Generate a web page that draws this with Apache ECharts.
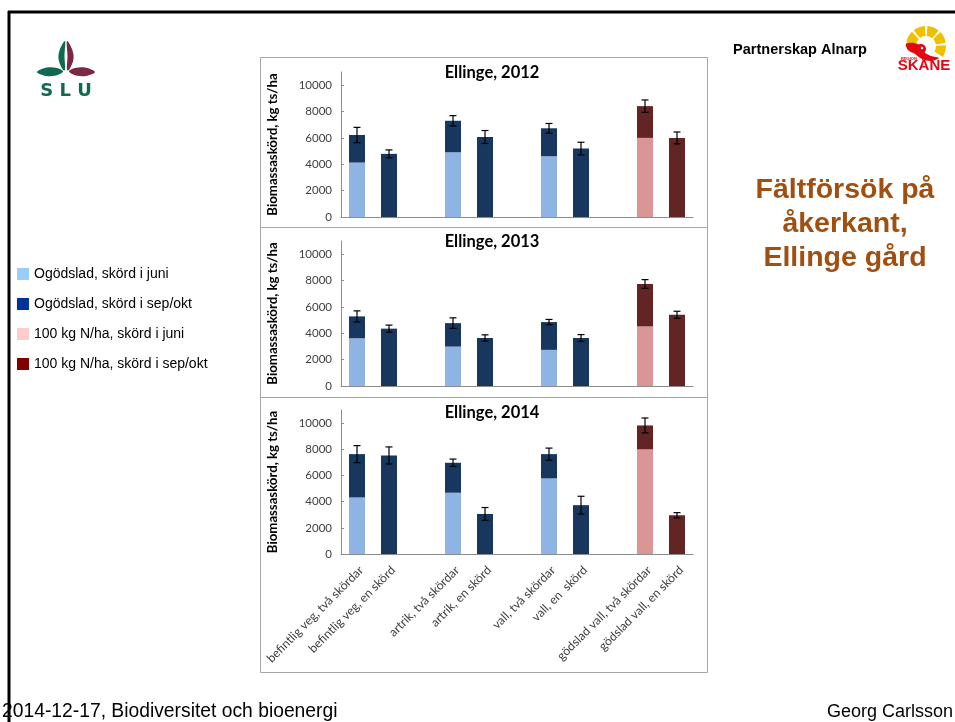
<!DOCTYPE html>
<html>
<head>
<meta charset="utf-8">
<script src="https://cdn.jsdelivr.net/npm/echarts@6/dist/echarts.min.js"></script>
<style>
html,body{margin:0;padding:0;background:#fff;}
#chart{width:955px;height:722px;}
</style>
</head>
<body>
<div id="chart"></div>
<script>
// ---------- data ----------
const categories = [
  'befintlig veg, två skördar', 'befintlig veg, en skörd', '',
  'artrik, två skördar', 'artrik, en skörd', '',
  'vall, två skördar', 'vall, en  skörd', '',
  'gödslad vall, två skördar', 'gödslad vall, en skörd'
];
// 1 = 100 kg N/ha (gödslad), 0 = ogödslad
const fertilized = [0, 0, 0, 0, 0, 0, 0, 0, 0, 1, 1];

const panelTitles = ['Ellinge, 2012', 'Ellinge, 2013', 'Ellinge, 2014'];

const total2012 = [6220, 4790, null, 7300, 6070, null, 6730, 5190, null, 8410, 6000];
const juni2012  = [4130, null, null, 4910, null, null, 4610, null, null, 6000, null];
const err2012   = [580, 300, null, 390, 490, null, 365, 480, null, 470, 450];

const total2013 = [5280, 4350, null, 4770, 3640, null, 4850, 3640, null, 7740, 5400];
const juni2013  = [3620, null, null, 2990, null, null, 2740, null, null, 4520, null];
const err2013   = [420, 270, null, 400, 240, null, 200, 260, null, 330, 270];

const total2014 = [7630, 7530, null, 6970, 3060, null, 7630, 3730, null, 9820, 2960];
const juni2014  = [4320, null, null, 4680, null, null, 5780, null, null, 7990, null];
const err2014   = [650, 650, null, 280, 490, null, 460, 680, null, 570, 200];

const yTicks = [0, 2000, 4000, 6000, 8000, 10000];

const legendNames = [
  'Ogödslad, skörd i juni',
  'Ogödslad, skörd i sep/okt',
  '100 kg N/ha, skörd i juni',
  '100 kg N/ha, skörd i sep/okt'
];

// ---------- styles ----------
const legendColors = ['#99ccff', '#003399', '#ffcccc', '#800000'];
const barColors = ['#8db4e2', '#17375e', '#d99694', '#632523'];
const chartFont = 'Lato';
const slideFont = 'Liberation Sans';

const panels = [
  {total: total2012, juni: juni2012, err: err2012},
  {total: total2013, juni: juni2013, err: err2013},
  {total: total2014, juni: juni2014, err: err2014}
];
const gridTops = [72, 241, 410];
const gridHeights = [145, 145, 144];
const titleYs = [73, 242, 413];

const grids = [], xAxes = [], yAxes = [], series = [];

panels.forEach((p, i) => {
  grids.push({left: 341, top: gridTops[i], width: 352, height: gridHeights[i], outerBoundsMode: 'none'});
  xAxes.push({
    type: 'category', gridIndex: i, data: categories,
    axisLine: {lineStyle: {color: '#8c8c8c', width: 1}},
    axisTick: {show: false},
    axisLabel: {
      show: i === 2, interval: 0, rotate: 45, margin: 10, verticalAlign: 'top',
      fontFamily: chartFont, fontSize: 12.2, color: '#404040'
    },
    splitLine: {show: false}
  });
  yAxes.push({
    type: 'value', gridIndex: i, min: 0, max: 11000, interval: 2000,
    axisLine: {show: true, lineStyle: {color: '#8c8c8c', width: 1}},
    axisTick: {show: true, inside: true, length: 3, lineStyle: {color: '#8c8c8c'}, customValues: yTicks},
    axisLabel: {fontFamily: chartFont, fontSize: 11.5, color: '#404040', margin: 9,
      customValues: yTicks, formatter: v => String(v)},
    splitLine: {show: false},
    name: 'Biomassaskörd, kg ts/ha', nameLocation: 'middle', nameGap: 62,
    nameTextStyle: {fontFamily: chartFont, fontWeight: 'bold', fontSize: 13.2, color: '#000'}
  });

  const part = (k, fert, which) => {
    if (fertilized[k] !== fert || p.total[k] == null) return '-';
    if (which === 'juni') {
      if (p.juni[k] == null) return '-';
      return {value: p.juni[k], itemStyle: {color: barColors[fert ? 2 : 0]}};
    }
    return {value: p.total[k] - (p.juni[k] || 0), itemStyle: {color: barColors[fert ? 3 : 1]}};
  };
  const defs = [
    [legendNames[0], 0, 'juni', 0],
    [legendNames[2], 1, 'juni', 2],
    [legendNames[1], 0, 'sep', 1],
    [legendNames[3], 1, 'sep', 3]
  ];
  defs.forEach(d => {
    series.push({
      type: 'bar', name: d[0], xAxisIndex: i, yAxisIndex: i, stack: 'panel' + i,
      barWidth: 16,
      itemStyle: {color: legendColors[d[3]]},
      data: categories.map((c, k) => part(k, d[1], d[2])),
      silent: true
    });
  });

  const errData = [];
  categories.forEach((c, k) => {
    if (p.err[k] != null) errData.push([k, p.total[k], p.err[k]]);
  });
  series.push({
    type: 'custom', xAxisIndex: i, yAxisIndex: i, silent: true, z: 10,
    encode: {x: 0, y: 1},
    data: errData,
    renderItem: (params, api) => {
      const x = api.value(0), v = api.value(1), e = api.value(2);
      const a = api.coord([x, v + e]);
      const b = api.coord([x, v - e]);
      const hw = 3.5;
      const st = {stroke: '#000', lineWidth: 1.2};
      return {type: 'group', children: [
        {type: 'line', shape: {x1: a[0], y1: a[1], x2: b[0], y2: b[1]}, style: st},
        {type: 'line', shape: {x1: a[0] - hw, y1: a[1], x2: a[0] + hw, y2: a[1]}, style: st},
        {type: 'line', shape: {x1: b[0] - hw, y1: b[1], x2: b[0] + hw, y2: b[1]}, style: st}
      ]};
    }
  });
});

const deg = Math.PI / 180;
const graphics = [
  // slide frame
  {type: 'line', shape: {x1: 8, y1: 12, x2: 955, y2: 12}, style: {stroke: '#000', lineWidth: 3}},
  {type: 'line', shape: {x1: 9, y1: 11, x2: 9, y2: 722}, style: {stroke: '#000', lineWidth: 3}},
  // chart box
  {type: 'rect', shape: {x: 260.5, y: 57.5, width: 447, height: 615}, style: {fill: 'none', stroke: '#a6a6a6', lineWidth: 1}, z: -1},
  {type: 'line', shape: {x1: 260.5, y1: 227.5, x2: 707.5, y2: 227.5}, style: {stroke: '#a6a6a6', lineWidth: 1}},
  {type: 'line', shape: {x1: 260.5, y1: 397.5, x2: 707.5, y2: 397.5}, style: {stroke: '#a6a6a6', lineWidth: 1}},
  // SLU logo
  {type: 'polygon', shape: {points: [[65,41],[60,49],[58.5,59],[63,70],[65,70],[64.5,56]], smooth: 0.35}, style: {fill: '#0e6b52'}},
  {type: 'polygon', shape: {points: [[67,41],[72,49],[73.5,59],[69,70],[67,70],[67.5,56]], smooth: 0.35}, style: {fill: '#7a2844'}},
  {type: 'polygon', shape: {points: [[37,72],[47,67.5],[57,68],[63,71.5],[56,75.5],[46,76]], smooth: 0.35}, style: {fill: '#0e6b52'}},
  {type: 'polygon', shape: {points: [[95,72],[85,67.5],[75,68],[69,71.5],[76,75.5],[86,76]], smooth: 0.35}, style: {fill: '#7a2844'}},
  {type: 'text', x: 66, y: 91, style: {text: 'S L U', fill: '#0e6b52', font: 'bold 18px "DejaVu Sans"', align: 'center', verticalAlign: 'middle'}},
  // Region Skåne logo
  {type: 'sector', shape: {cx: 926, cy: 46, r0: 10, r: 20, startAngle: -170 * deg, endAngle: -135 * deg}, style: {fill: '#f0c000'}},
  {type: 'sector', shape: {cx: 926, cy: 46, r0: 10, r: 20, startAngle: -128 * deg, endAngle: -93 * deg}, style: {fill: '#f0c000'}},
  {type: 'sector', shape: {cx: 926, cy: 46, r0: 10, r: 20, startAngle: -86 * deg, endAngle: -51 * deg}, style: {fill: '#f0c000'}},
  {type: 'sector', shape: {cx: 926, cy: 46, r0: 10, r: 20, startAngle: -44 * deg, endAngle: -9 * deg}, style: {fill: '#f0c000'}},
  {type: 'sector', shape: {cx: 926, cy: 46, r0: 10, r: 20, startAngle: -2 * deg, endAngle: 33 * deg}, style: {fill: '#f0c000'}},
  {type: 'polygon', shape: {points: [[906,44],[914,43],[921,46],[924,52],[931,56],[939,58],[931,61],[922,59],[915,54],[908,50]], smooth: 0.3}, style: {fill: '#e30613'}},
  {type: 'circle', shape: {cx: 921, cy: 49, r: 5}, style: {fill: '#e30613'}},
  {type: 'circle', shape: {cx: 922, cy: 48, r: 1.2}, style: {fill: '#fff'}},
  {type: 'text', x: 901, y: 59, style: {text: 'REGION', fill: '#e30613', font: 'bold 4px "Liberation Sans"', align: 'left', verticalAlign: 'middle'}},
  {type: 'text', x: 924, y: 66, style: {text: 'SKÅNE', fill: '#e30613', font: 'bold 15px "Liberation Sans"', align: 'center', verticalAlign: 'middle'}},
  // header texts
  {type: 'text', x: 800, y: 50, style: {text: 'Partnerskap Alnarp', fill: '#000', font: 'bold 14.5px "Liberation Sans"', align: 'center', verticalAlign: 'middle'}},
  {type: 'text', x: 845, y: 224, style: {text: 'Fältförsök på\nåkerkant,\nEllinge gård', fill: '#a14f10', font: 'bold 28.5px "Liberation Sans"', lineHeight: 34, align: 'center', verticalAlign: 'middle'}},
  // footer
  {type: 'text', x: 2, y: 712, style: {text: '2014-12-17, Biodiversitet och bioenergi', fill: '#000', font: '19.3px "Liberation Sans"', align: 'left', verticalAlign: 'middle'}},
  {type: 'text', x: 953, y: 712, style: {text: 'Georg Carlsson', fill: '#000', font: '18px "Liberation Sans"', align: 'right', verticalAlign: 'middle'}}
];
panelTitles.forEach((t, i) => {
  graphics.push({type: 'text', x: 492, y: titleYs[i], style: {text: t, fill: '#000', font: 'bold 16.5px Lato', align: 'center', verticalAlign: 'middle'}});
});

const chart = echarts.init(document.getElementById('chart'), null, {renderer: 'canvas'});
chart.setOption({
  animation: false,
  backgroundColor: '#fff',
  legend: {
    data: legendNames, orient: 'vertical', left: 17, top: 267, padding: 0,
    itemWidth: 12, itemHeight: 12, itemGap: 16, icon: 'rect', selectedMode: false,
    textStyle: {fontFamily: slideFont, fontSize: 14, color: '#000'}
  },
  grid: grids,
  xAxis: xAxes,
  yAxis: yAxes,
  series: series,
  graphic: {elements: graphics}
});
</script>
</body>
</html>
